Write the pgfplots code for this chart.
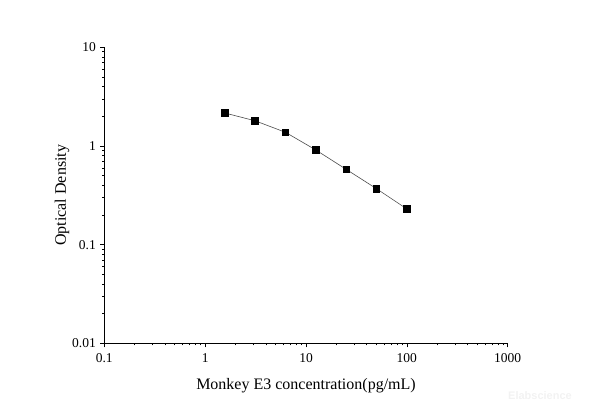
\documentclass[border=0pt]{standalone}
\usepackage{fontspec}
\setmainfont{Liberation Serif}
\newfontfamily\wmfont{Liberation Sans}
\usepackage{pgfplots}
\pgfplotsset{compat=1.18}
\begin{document}
\begin{tikzpicture}[x=1pt,y=1pt]
\useasboundingbox (0,0) rectangle (590,412);
\begin{axis}[
  at={(104.3pt,68.7pt)}, anchor=south west,
  scale only axis, width=403.4pt, height=296pt,
  xmode=log, ymode=log,
  xmin=0.1, xmax=1000, ymin=0.01, ymax=10,
  axis lines*=left,
  axis line style={line width=0.8pt, black},
  tick align=outside,
  major tick length=4pt, minor tick length=2.2pt,
  every tick/.style={black, line width=0.7pt},
  log ticks with fixed point,
  /pgf/number format/1000 sep={},
  /pgf/number format/assume math mode=true,
  xtick={0.1,1,10,100,1000},
  ytick={0.01,0.1,1,10},
  xticklabels={0.1,1,10,100,1000},
  yticklabels={0.01,0.1,1,10},
  tick label style={font=\fontsize{13.5}{15}\selectfont},
  xticklabel style={yshift=-3pt},
  yticklabel style={xshift=-1pt},
  xlabel={Monkey E3 concentration(pg/mL)},
  ylabel={Optical Density},
  label style={font=\fontsize{16}{19}\selectfont},
  xlabel style={yshift=-9pt},
  ylabel style={yshift=-4pt},
  clip=false,
]
\addplot[black!70, line width=0.6pt, mark=square*, mark size=3.3pt,
  mark options={fill=black, draw=black, solid}]
  coordinates {(1.5625,2.16) (3.125,1.80) (6.25,1.377) (12.5,0.911) (25,0.580) (50,0.369) (100,0.230)};
\end{axis}
\node[font=\wmfont\bfseries\fontsize{11}{13}\selectfont, text=black!5] at (540,16) {Elabscience};
\end{tikzpicture}
\end{document}
